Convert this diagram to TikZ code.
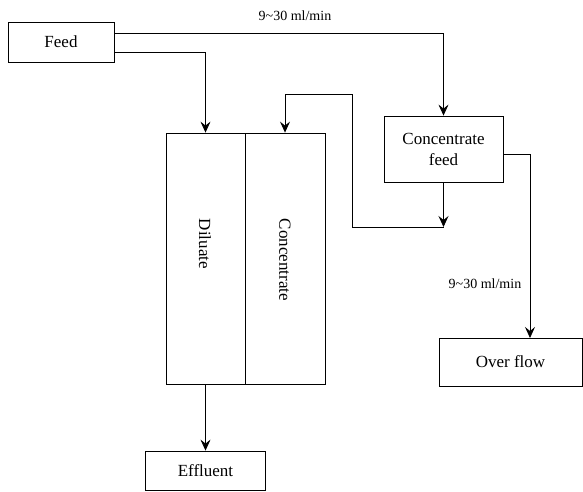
\documentclass[tikz,border=0pt]{standalone}
\usepackage{fontspec}
\setmainfont{Liberation Serif}
\usetikzlibrary{arrows.meta}
\begin{document}
\begin{tikzpicture}[x=1pt,y=1pt,
  box/.style={draw,line width=0.8pt,inner sep=0pt,font=\fontsize{17}{21}\selectfont,align=center},
  conn/.style={line width=0.8pt},
  arr/.style={conn,-{Stealth[length=11pt,width=10pt,inset=4pt]}},
  lbl/.style={font=\fontsize{14}{16}\selectfont}]
\useasboundingbox (0,0) rectangle (583,-492);
\node[box,minimum width=106,minimum height=40] (feed) at (61,-42) {Feed};
\node[box,minimum width=79,minimum height=251] (dil) at (205.5,-258.5) {};
\node[box,minimum width=80,minimum height=251] (conc) at (285,-258.5) {};
\node[font=\fontsize{17}{21}\selectfont,rotate=-90] (diltxt) at (205,-244) {Diluate};
\node[font=\fontsize{17}{21}\selectfont,rotate=-90] (conctxt) at (285,-260) {Concentrate};
\node[box,minimum width=119,minimum height=66] (cfeed) at (443.5,-149) {Concentrate\\feed};
\node[box,minimum width=143,minimum height=48] (ovf) at (510.5,-362) {Over flow};
\node[box,minimum width=120,minimum height=39] (eff) at (205.5,-470.5) {Effluent};
\node[lbl] (l1) at (295,-16) {9\textasciitilde30 ml/min};
\node[lbl] (l2) at (485,-284) {9\textasciitilde30 ml/min};
\coordinate (junc) at (443.5,-227);
\coordinate (ovin) at (530,-338);
\draw[arr] ([yshift=9]feed.east) -| (cfeed.north);
\draw[arr] ([yshift=-10]feed.east) -| (dil.north);
\draw[arr] (cfeed.south) -- (junc);
\draw[arr] (junc) -- (352,-227) -- (352,-94) -| (conc.north);
\draw[arr] ([yshift=-5]cfeed.east) -| (ovin);
\draw[arr] (dil.south) -- (eff.north);
\end{tikzpicture}
\end{document}
